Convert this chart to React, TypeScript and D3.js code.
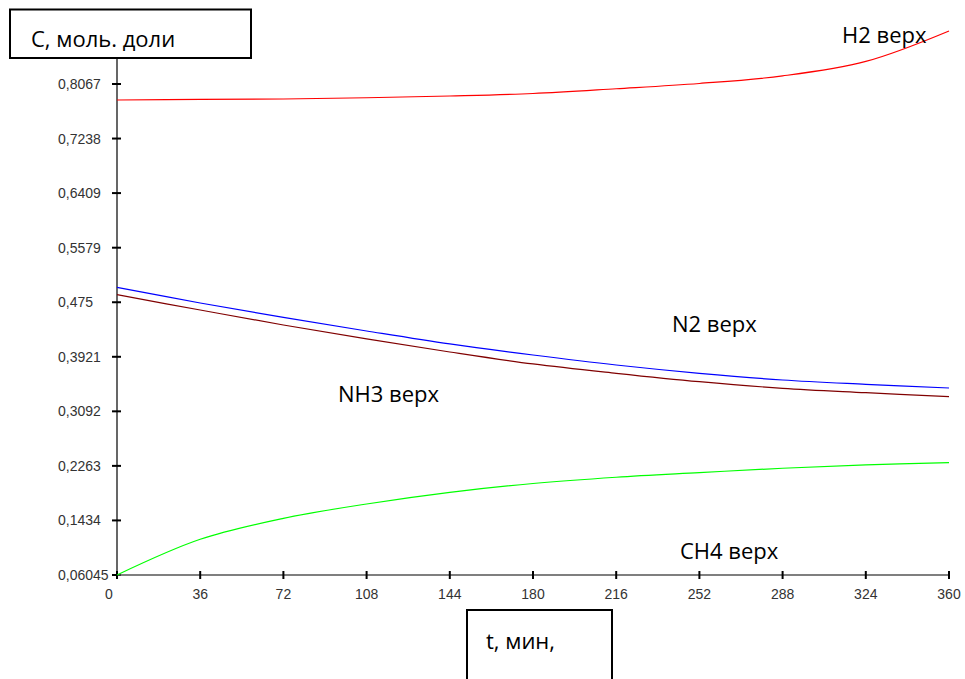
import * as d3 from "d3";
import React from "react";

// time, min
const times = [0, 36, 72, 108, 144, 180, 216, 252, 288, 324, 360];

// mole fractions
const h2Top = [0.7824, 0.7832, 0.7839, 0.7858, 0.7885, 0.7923, 0.7995, 0.8075, 0.819, 0.841, 0.8873];
const n2Top = [0.4977, 0.4739, 0.4519, 0.4313, 0.4116, 0.3948, 0.3796, 0.367, 0.3568, 0.3503, 0.3447];
const nh3Top = [0.4865, 0.4632, 0.4404, 0.4192, 0.3994, 0.3812, 0.367, 0.3543, 0.3442, 0.3376, 0.3315];
const ch4Top = [0.06045, 0.1147, 0.1466, 0.1684, 0.1861, 0.1995, 0.209, 0.216, 0.2227, 0.2277, 0.2312];

const yTickValues = [0.06045, 0.1434, 0.2263, 0.3092, 0.3921, 0.475, 0.5579, 0.6409, 0.7238, 0.8067];
const yTickLabels = ["0,06045", "0,1434", "0,2263", "0,3092", "0,3921", "0,475", "0,5579", "0,6409", "0,7238", "0,8067"];
const xTickValues = [0, 36, 72, 108, 144, 180, 216, 252, 288, 324, 360];

const seriesNames = ["H2 верх", "N2 верх", "NH3 верх", "CH4 верх"];

const width = 965;
const height = 679;

export default function App() {
  const x = d3.scaleLinear().domain([0, 360]).range([117, 949]);
  const y = d3.scaleLinear().domain([0.06045, 0.8067]).range([575, 84]);

  const line = d3
    .line<number>()
    .x((d, i) => x(times[i]))
    .y((d) => y(d))
    .curve(d3.curveCatmullRom.alpha(0.5));

  const series = [
    { values: h2Top, color: "#ff0000", label: seriesNames[0], lx: 842, ly: 43 },
    { values: n2Top, color: "#0000ff", label: seriesNames[1], lx: 672, ly: 332 },
    { values: nh3Top, color: "#800000", label: seriesNames[2], lx: 338, ly: 402 },
    { values: ch4Top, color: "#00ff00", label: seriesNames[3], lx: 680, ly: 559 },
  ];

  const bigFont = "'Open Sans', 'Noto Sans', sans-serif";
  const smallFont = "'Liberation Sans', Arial, sans-serif";

  return (
    <svg
      width={width}
      height={height}
      style={{ position: "absolute", left: 0, top: 0, background: "#fff" }}
    >
      {/* y axis */}
      <line x1={x(0)} x2={x(0)} y1={58} y2={y(0.06045)} stroke="#000" strokeWidth={1.2} />
      {yTickValues.map((v, i) => (
        <g key={"yt" + i}>
          <line x1={x(0) - 5} x2={x(0) + 4} y1={y(v)} y2={y(v)} stroke="#000" strokeWidth={2} />
          <text x={58} y={y(v) + 5} fontFamily={smallFont} fontSize={14} fill="#333">
            {yTickLabels[i]}
          </text>
        </g>
      ))}

      {/* x axis */}
      <line x1={x(0)} x2={x(360)} y1={y(0.06045)} y2={y(0.06045)} stroke="#555" strokeWidth={1.5} />
      {xTickValues.map((v) => (
        <g key={"xt" + v}>
          <line x1={x(v)} x2={x(v)} y1={y(0.06045) - 4} y2={y(0.06045) + 4} stroke="#000" strokeWidth={2} />
          <text
            x={v === 0 ? x(v) - 8 : x(v)}
            y={599}
            textAnchor="middle"
            fontFamily={smallFont}
            fontSize={14}
            fill="#333"
          >
            {v}
          </text>
        </g>
      ))}

      {/* curves */}
      {series.map((s) => (
        <path key={s.label} d={line(s.values) || ""} fill="none" stroke={s.color} strokeWidth={1.2} />
      ))}

      {/* series labels */}
      {series.map((s) => (
        <text key={"l" + s.label} x={s.lx} y={s.ly} fontFamily={bigFont} fontSize={22} fill="#000">
          {s.label}
        </text>
      ))}

      {/* axis title boxes */}
      <rect x={10} y={9.5} width={241} height={48.5} fill="#fff" stroke="#000" strokeWidth={2} />
      <text x={31} y={47} fontFamily={bigFont} fontSize={22} fill="#000">
        С, моль. доли
      </text>

      <rect x={467} y={610} width={145} height={90} fill="#fff" stroke="#000" strokeWidth={2} />
      <text x={486} y={649} fontFamily={bigFont} fontSize={22} fill="#000">
        t, мин,
      </text>
    </svg>
  );
}
